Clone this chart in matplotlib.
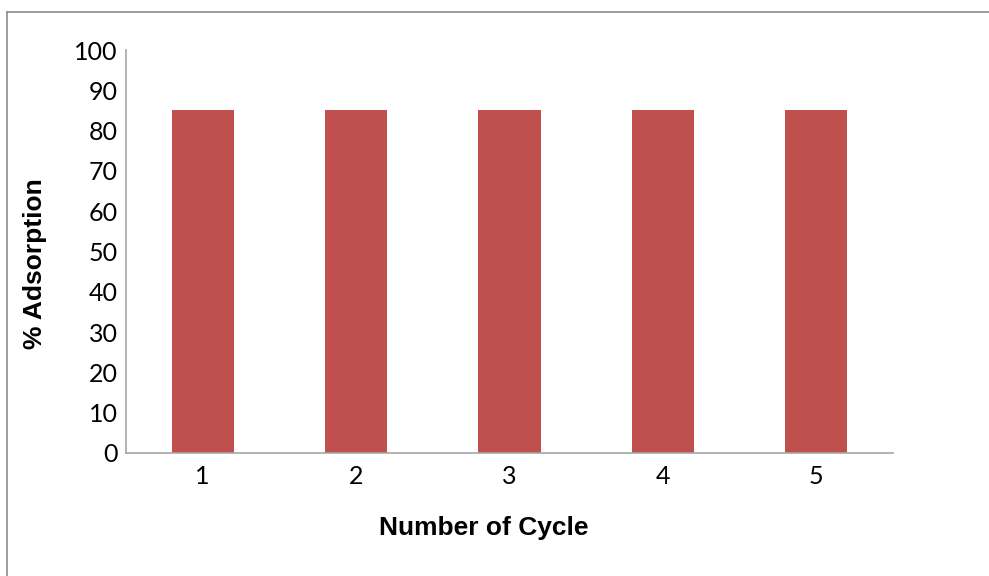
import matplotlib
matplotlib.use("Agg")
import matplotlib.pyplot as plt
from matplotlib.lines import Line2D

cycles = ["1", "2", "3", "4", "5"]
adsorption = [85, 85, 85, 85, 85]
y_ticks = [0, 10, 20, 30, 40, 50, 60, 70, 80, 90, 100]

W, H = 989, 576
fig = plt.figure(figsize=(W / 100, H / 100), dpi=100)
fig.patch.set_facecolor("white")

# outer chart frame (top and left edges)
fig.add_artist(Line2D([7 / W, 7 / W], [0, 1 - 12 / H], transform=fig.transFigure,
                      color="#8c8c8c", lw=1.2))
fig.add_artist(Line2D([7 / W, 1], [1 - 12 / H, 1 - 12 / H], transform=fig.transFigure,
                      color="#8c8c8c", lw=1.2))

left, right, top, bottom = 126, 893, 50, 453
ax = fig.add_axes([left / W, 1 - bottom / H, (right - left) / W, (bottom - top) / H])

x = list(range(1, len(cycles) + 1))
ax.bar(x, adsorption, width=0.405, color="#C0504D", zorder=2)

ax.set_xlim(0.5, len(cycles) + 0.5)
ax.set_ylim(0, 100)
ax.set_xticks(x)
ax.set_xticklabels(cycles)
ax.set_yticks(y_ticks)

for s in ["top", "right"]:
    ax.spines[s].set_visible(False)
for s in ["left", "bottom"]:
    ax.spines[s].set_color("#a6a6a6")
    ax.spines[s].set_linewidth(1.2)

ax.tick_params(axis="both", length=0, labelsize=18)
ax.tick_params(axis="x", pad=9)
ax.tick_params(axis="y", pad=6)
for lbl in ax.get_xticklabels() + ax.get_yticklabels():
    lbl.set_fontfamily("Lato")
    lbl.set_color("black")

# axis titles placed in figure pixels
fig.text(484 / W, 1 - 528 / H, "Number of Cycle", fontsize=19, fontweight="bold",
         fontfamily="Liberation Sans", ha="center", va="center")
fig.text(35 / W, 1 - 264 / H, "% Adsorption", fontsize=19, fontweight="bold",
         fontfamily="Liberation Sans", ha="center", va="center", rotation=90)

fig.savefig("out.png", dpi=100, facecolor="white")
